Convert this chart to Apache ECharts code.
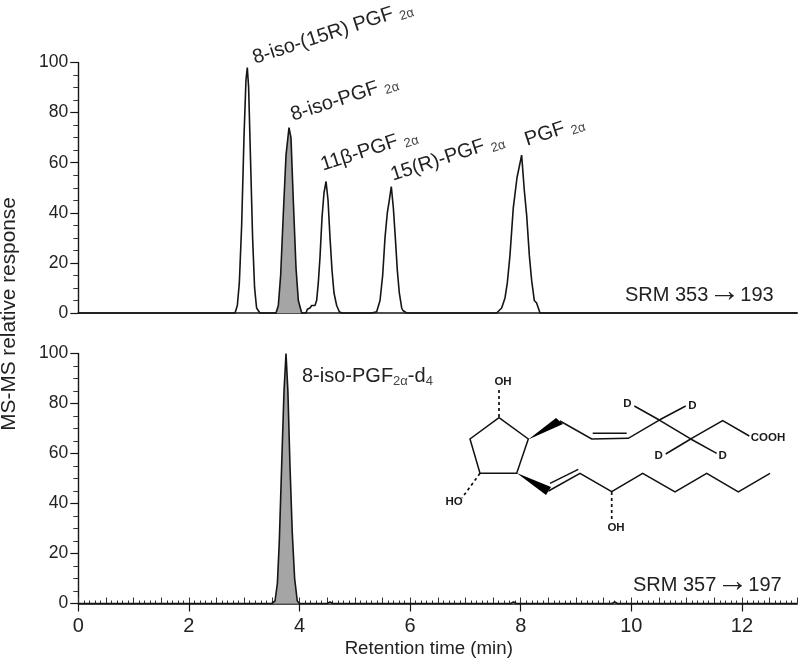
<!DOCTYPE html>
<html><head><meta charset="utf-8">
<style>html,body{margin:0;padding:0;background:#fff}#c{width:800px;height:659px}</style>
<script src="https://cdn.jsdelivr.net/npm/echarts@6/dist/echarts.min.js"></script>
</head><body><div id="c"></div>
<script>
var peak1=[[2.834,0],[2.876,3],[2.912,12],[2.954,35],[2.996,70],[3.032,93],[3.056,98],[3.08,90],[3.116,60],[3.152,30],[3.188,10],[3.224,2],[3.284,0]];
var peak2=[[3.575,0],[3.617,3],[3.659,15],[3.708,40],[3.756,63],[3.81,74],[3.846,70],[3.888,45],[3.937,18],[3.979,5],[4.04,0]];
var peak3=[[4.117,0],[4.142,1.5],[4.19,2],[4.22,3],[4.25,2.5],[4.28,3],[4.31,5],[4.34,12],[4.37,22],[4.407,38],[4.443,48],[4.48,52.5],[4.516,45],[4.552,30],[4.588,17],[4.624,8],[4.672,3],[4.72,0.5],[4.762,0]];
var peak4=[[5.305,0],[5.395,0.5],[5.456,5],[5.504,15],[5.546,30],[5.588,40],[5.624,45],[5.66,50.5],[5.697,42],[5.733,30],[5.769,17],[5.805,8],[5.848,2],[5.87,1],[5.938,0]];
var peak5=[[7.565,0],[7.656,2],[7.716,6],[7.758,12],[7.806,23],[7.866,42],[7.933,54],[8.017,63],[8.065,49],[8.108,39],[8.156,23],[8.198,13],[8.246,5],[8.288,4],[8.349,0]];
var peakD4=[[3.497,0],[3.557,1],[3.6,8],[3.635,25],[3.677,55],[3.72,85],[3.756,100],[3.79,85],[3.828,55],[3.87,28],[3.912,10],[3.96,1],[4.0,0]];
var noiseD4=[[4.5,0],[4.55,0.6],[4.6,0],[7.82,0],[7.87,0.6],[7.92,0],[8.25,0],[8.28,0.6],[8.31,0],[9.65,0],[9.7,0.6],[9.75,0]];
var xTickLabels=[0,2,4,6,8,10,12];
var yTickLabels=[0,20,40,60,80,100];

var FONT='"Liberation Sans",Arial,sans-serif', INK='#222', LINE='#151515', FILL='#a5a5a5';
var subStyle={fontSize:13,fontFamily:FONT,fill:'#444',verticalAlign:'bottom',lineHeight:20};
var mainStyle={fontSize:20,fontFamily:FONT,fill:INK,lineHeight:24};
var arrowStyle={fontSize:32,fontFamily:FONT,fill:INK,lineHeight:24,padding:[0,0,5,0]};
function label(x,y,text,rot){return {type:'text',x:x,y:y,rotation:(rot||0)*Math.PI/180,z:20,style:{text:text,rich:{a:mainStyle,b:subStyle,c:arrowStyle},textAlign:'left',textVerticalAlign:'bottom',font:'20px '+FONT,fill:INK}};}
function plain(x,y,text,size,align){return {type:'text',x:x,y:y,z:20,style:{text:text,font:'bold '+(size||11.5)+'px '+FONT,fill:'#1a1a1a',textAlign:align||'center',textVerticalAlign:'middle'}};}
function mol(points,dash){return {type:'polyline',z:20,shape:{points:points},style:{stroke:'#111',lineWidth:dash?1.7:1.5,fill:null,lineDash:dash?[3,3]:null}};}
function wedge(points){return {type:'polygon',z:20,shape:{points:points},style:{fill:'#000'}};}

var graphics=[
 label(257,70,'{a|8-iso-(15R) PGF} {b|2α}',18),
 label(295,127,'{a|8-iso-PGF} {b|2α}',18),
 label(325,177,'{a|11β-PGF} {b|2α}',18),
 label(395,187,'{a|15(R)-PGF} {b|2α}',18),
 label(529,152,'{a|PGF} {b|2α}',18),
 label(302,388,'{a|8-iso-PGF}{b|2α}{a|-d}{b|4}',0),
 label(625,307,'{a|SRM 353}{c|→}{a|193}',0),
 label(633,597,'{a|SRM 357}{c|→}{a|197}',0),
 {type:'text',x:9,y:314,rotation:Math.PI/2,z:20,style:{text:'MS-MS relative response',font:'20.8px '+FONT,fill:INK,textAlign:'center',textVerticalAlign:'middle'}},
 mol([[499,417.7],[528.3,439],[516.7,473.3],[480,473.3],[470,439],[499,417.7]]),
 wedge([[528.3,439.5],[556,418],[563,424]]),
 mol([[560,421],[591.7,439],[628.3,438.3],[659.3,420],[690.7,439],[722.7,420.7],[749.3,436]]),
 mol([[592.7,433.3],[626.7,433.3]]),
 mol([[659.3,420],[634.3,406]]),mol([[659.3,420],[685.7,406]]),
 mol([[690.7,439],[665.7,454]]),mol([[690.7,439],[716.7,453.3]]),
 wedge([[516.7,473],[546,495],[551,487]]),
 mol([[548.5,491],[580,473.3],[611.7,491.7],[642.7,473.3],[675,492],[706.7,473.3],[738.3,492],[770,473.3]]),
 mol([[550,483.3],[578.3,469.3]]),
 mol([[499,417],[499,387]],true),
 mol([[611.7,492],[611.7,522]],true),
 mol([[480,473.3],[462,498]],true),
 plain(503,381.7,'OH'),plain(616,528.3,'OH'),plain(454,501.7,'HO'),
 plain(627.3,404,'D'),plain(692.3,406,'D'),plain(658.7,456,'D'),plain(722.7,456,'D'),
 plain(768,438.3,'COOH')
];

function yAxis(grid){return {type:'value',gridIndex:grid,min:0,max:100,interval:20,
 axisLine:{show:true,lineStyle:{color:LINE,width:1.4}},
 axisTick:{show:true,inside:false,length:8,lineStyle:{color:LINE,width:1.2}},
 minorTick:{show:true,splitNumber:4,length:5,lineStyle:{color:'#333',width:1}},
 splitLine:{show:false},minorSplitLine:{show:false},
 axisLabel:{margin:10,fontFamily:FONT,fontSize:17.5,color:INK,customValues:yTickLabels}};}
var topTrace=[[0,0]].concat(peak1,peak2,peak3,peak4,peak5,[[13,0]]);
var bottomTrace=[[0,0]].concat(peakD4,noiseD4,[[13,0]]);
function lineSeries(name,xi,yi,data,extra){var s={type:'line',name:name,xAxisIndex:xi,yAxisIndex:yi,data:data,showSymbol:false,symbol:'none',smooth:false,animation:false,clip:false,lineStyle:{color:LINE,width:1.6},silent:true,z:5};for(var k in extra)s[k]=extra[k];return s;}

var chart=echarts.init(document.getElementById('c'),null,{renderer:'canvas'});
chart.setOption({
 animation:false,backgroundColor:'#fff',
 grid:[{left:78.3,right:2.8,top:62.5,height:250.5,outerBoundsMode:'none'},{left:78.3,right:2.8,top:353.5,height:250,outerBoundsMode:'none'}],
 xAxis:[
  {type:'value',gridIndex:0,min:0,max:13,axisLine:{onZero:false,lineStyle:{color:LINE,width:1.7}},axisTick:{show:false},axisLabel:{show:false},splitLine:{show:false}},
  {type:'value',gridIndex:1,min:0,max:13,interval:2,axisLine:{onZero:false,lineStyle:{color:LINE,width:1.6}},
   axisTick:{length:8,lineStyle:{color:LINE,width:1.2},customValues:xTickLabels},splitLine:{show:false},
   axisLabel:{margin:13,fontFamily:FONT,fontSize:20,color:INK,customValues:xTickLabels},
   name:'Retention time (min)',nameLocation:'middle',nameGap:36,
   nameTextStyle:{fontFamily:FONT,fontSize:18.7,color:INK,padding:[0,18,0,0]}},
  {type:'value',gridIndex:1,min:0,max:13,interval:0.5,axisLine:{show:false},
   axisTick:{length:6,lineStyle:{color:'#333',width:1}},
   minorTick:{show:true,splitNumber:5,length:3,lineStyle:{color:'#333',width:1}},
   splitLine:{show:false},minorSplitLine:{show:false},axisLabel:{show:false}}
 ],
 yAxis:[yAxis(0),yAxis(1)],
 series:[
  lineSeries('8-iso-PGF2α fill',0,0,peak2,{areaStyle:{color:FILL,opacity:1},lineStyle:{width:0},z:3}),
  lineSeries('SRM 353 → 193',0,0,topTrace),
  lineSeries('SRM 357 → 197',1,1,bottomTrace,{areaStyle:{color:FILL,opacity:1}})
 ],
 graphic:graphics
});
</script></body></html>
